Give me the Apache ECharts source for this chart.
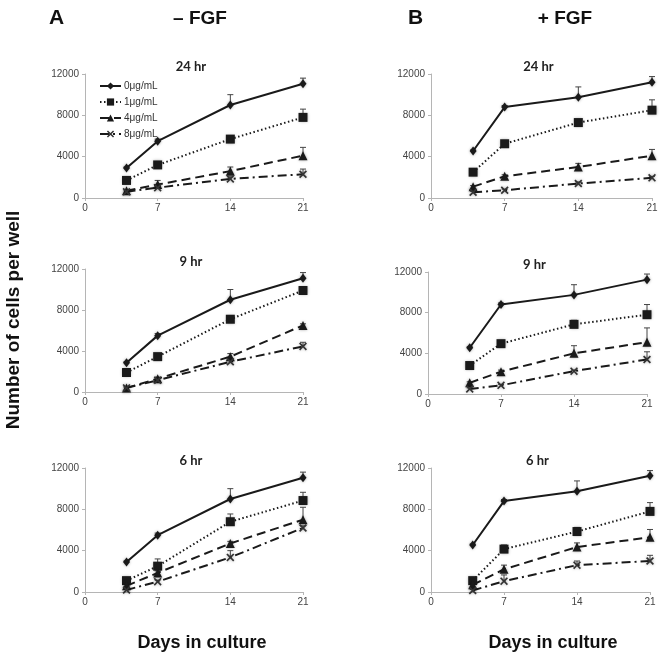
<!DOCTYPE html>
<html><head><meta charset="utf-8">
<script src="https://cdn.jsdelivr.net/npm/echarts@6/dist/echarts.min.js"></script>
<style>html,body{margin:0;padding:0;background:#fff}#c{width:662px;height:652px}</style>
</head><body><div id="c"></div>
<script>
// ---- data ----
const days = [4, 7, 14, 21];
const doses = ['0μg/mL', '1μg/mL', '4μg/mL', '8μg/mL'];
const xTicks = [0, 7, 14, 21];
const yTicks = [0, 4000, 8000, 12000];
const panelTitles = ['24 hr', '24 hr', '9 hr', '9 hr', '6 hr', '6 hr'];

// -FGF 24 hr
const a24_0 = [2900, 5500, 9000, 11050];
const a24_1 = [1700, 3200, 5700, 7800];
const a24_4 = [700, 1300, 2600, 4100];
const a24_8 = [600, 1000, 1850, 2300];
const a24_0e = [100, 200, 1000, 550];
const a24_1e = [100, 200, 200, 800];
const a24_4e = [100, 400, 400, 800];
const a24_8e = [100, 300, 200, 500];
// +FGF 24 hr
const b24_0 = [4550, 8800, 9750, 11200];
const b24_1 = [2500, 5250, 7300, 8500];
const b24_4 = [1100, 2100, 3000, 4100];
const b24_8 = [550, 750, 1400, 1950];
const b24_0e = [100, 150, 1000, 550];
const b24_1e = [100, 150, 150, 1000];
const b24_4e = [100, 150, 350, 600];
const b24_8e = [100, 100, 150, 150];
// -FGF 9 hr
const a9_0 = [2850, 5500, 9000, 11100];
const a9_1 = [1900, 3450, 7100, 9900];
const a9_4 = [400, 1300, 3450, 6500];
const a9_8 = [400, 1150, 2950, 4450];
const a9_0e = [100, 200, 1000, 550];
const a9_1e = [100, 100, 150, 150];
const a9_4e = [100, 150, 300, 150];
const a9_8e = [100, 150, 150, 400];
// +FGF 9 hr
const b9_0 = [4550, 8800, 9750, 11250];
const b9_1 = [2800, 4950, 6850, 7800];
const b9_4 = [1100, 2200, 4000, 5100];
const b9_8 = [500, 850, 2250, 3400];
const b9_0e = [100, 150, 1000, 550];
const b9_1e = [100, 150, 400, 1000];
const b9_4e = [100, 150, 750, 1400];
const b9_8e = [100, 100, 100, 750];
// -FGF 6 hr
const a6_0 = [2900, 5500, 9000, 11050];
const a6_1 = [1100, 2500, 6800, 8850];
const a6_4 = [600, 1850, 4700, 7000];
const a6_8 = [200, 1000, 3350, 6200];
const a6_0e = [100, 200, 1000, 550];
const a6_1e = [100, 700, 750, 800];
const a6_4e = [100, 200, 200, 1200];
const a6_8e = [100, 150, 650, 200];
// +FGF 6 hr
const b6_0 = [4550, 8800, 9750, 11250];
const b6_1 = [1100, 4150, 5850, 7800];
const b6_4 = [700, 2200, 4350, 5300];
const b6_8 = [150, 1050, 2600, 3000];
const b6_0e = [100, 150, 1000, 500];
const b6_1e = [100, 400, 400, 850];
const b6_4e = [100, 400, 400, 750];
const b6_8e = [100, 600, 400, 550];

const panels = [
  {vals: [a24_0, a24_1, a24_4, a24_8], errs: [a24_0e, a24_1e, a24_4e, a24_8e]},
  {vals: [b24_0, b24_1, b24_4, b24_8], errs: [b24_0e, b24_1e, b24_4e, b24_8e]},
  {vals: [a9_0, a9_1, a9_4, a9_8], errs: [a9_0e, a9_1e, a9_4e, a9_8e]},
  {vals: [b9_0, b9_1, b9_4, b9_8], errs: [b9_0e, b9_1e, b9_4e, b9_8e]},
  {vals: [a6_0, a6_1, a6_4, a6_8], errs: [a6_0e, a6_1e, a6_4e, a6_8e]},
  {vals: [b6_0, b6_1, b6_4, b6_8], errs: [b6_0e, b6_1e, b6_4e, b6_8e]}
];

// ---- layout / style ----
const grids = [
  {left: 85, top: 74, width: 218, height: 124},
  {left: 431, top: 74, width: 221, height: 124},
  {left: 85, top: 269, width: 218, height: 123},
  {left: 428, top: 272, width: 219, height: 122},
  {left: 85, top: 468, width: 218, height: 124},
  {left: 431, top: 468, width: 219, height: 124}
];
const xSymbol = 'path://M0,1.5 L1.5,0 L5,3.5 L8.5,0 L10,1.5 L6.5,5 L10,8.5 L8.5,10 L5,6.5 L1.5,10 L0,8.5 L3.5,5 Z';
const styles = [
  {symbol: 'diamond', size: [7, 9], type: 'solid', color: '#1a1a1a'},
  {symbol: 'rect', size: 9, type: [1.5, 2.5], color: '#1a1a1a'},
  {symbol: 'triangle', size: 9, type: [9, 5], color: '#1a1a1a'},
  {symbol: xSymbol, size: 8, type: [9, 4, 2, 4], color: '#333'}
];

const axisLabelStyle = {color: '#444', fontSize: 10, fontFamily: 'Liberation Sans, Arial, sans-serif'};
const xAxes = [], yAxes = [], series = [], titles = [];
grids.forEach((g, i) => {
  xAxes.push({
    type: 'value', gridIndex: i, min: 0, max: 21, interval: 7,
    axisLine: {lineStyle: {color: '#b5b5b5', width: 1}},
    axisTick: {show: true, length: 3, lineStyle: {color: '#b5b5b5'}},
    axisLabel: Object.assign({margin: 5, formatter: v => String(v)}, axisLabelStyle),
    splitLine: {show: false}
  });
  yAxes.push({
    type: 'value', gridIndex: i, min: 0, max: 12000, interval: 4000,
    axisLine: {show: true, lineStyle: {color: '#b5b5b5', width: 1}},
    axisTick: {show: true, length: 3, lineStyle: {color: '#b5b5b5'}},
    axisLabel: Object.assign({margin: 6, formatter: v => String(v)}, axisLabelStyle),
    splitLine: {show: false}
  });
  titles.push({
    text: panelTitles[i],
    left: g.left + g.width / 2 - 8, top: g.top - 19, textAlign: 'center',
    textStyle: {fontSize: 13, fontWeight: 'bold', color: '#222', fontFamily: 'Lato, Open Sans, sans-serif'}
  });
  const p = panels[i];
  p.vals.forEach((v, k) => {
    const st = styles[k];
    series.push({
      type: 'custom', xAxisIndex: i, yAxisIndex: i, silent: true, z: 1,
      data: days.map((d, j) => [d, v[j], p.errs[k][j]]),
      renderItem: function (params, api) {
        const x = api.value(0), y = api.value(1), e = api.value(2);
        const p0 = api.coord([x, y]);
        const p1 = api.coord([x, y + e]);
        return {type: 'group', children: [
          {type: 'line', shape: {x1: p0[0], y1: p0[1], x2: p1[0], y2: p1[1]}, style: {stroke: '#444', lineWidth: 1}},
          {type: 'line', shape: {x1: p1[0] - 3, y1: p1[1], x2: p1[0] + 3, y2: p1[1]}, style: {stroke: '#444', lineWidth: 1}}
        ]};
      }
    });
    series.push({
      type: 'line', name: doses[k], xAxisIndex: i, yAxisIndex: i, z: 3,
      data: days.map((d, j) => [d, v[j]]),
      symbol: st.symbol, symbolSize: st.size, showSymbol: true,
      lineStyle: {color: '#1a1a1a', width: 2, type: st.type},
      itemStyle: {color: st.color, shadowBlur: 3, shadowColor: 'rgba(0,0,0,0.35)'},
      animation: false
    });
  });
});

const bigFont = 'Liberation Sans, Arial';
titles.push(
  {text: 'A', left: 44, top: 3, textStyle: {fontSize: 21, fontWeight: 'bold', color: '#111', fontFamily: bigFont}},
  {text: '– FGF', left: 195, top: 4, textAlign: 'center', textStyle: {fontSize: 19, fontWeight: 'bold', color: '#111', fontFamily: bigFont}},
  {text: 'B', left: 403, top: 3, textStyle: {fontSize: 21, fontWeight: 'bold', color: '#111', fontFamily: bigFont}},
  {text: '+ FGF', left: 560, top: 4, textAlign: 'center', textStyle: {fontSize: 19, fontWeight: 'bold', color: '#111', fontFamily: bigFont}},
  {text: 'Days in culture', left: 197, top: 629, textAlign: 'center', textStyle: {fontSize: 18, fontWeight: 'bold', color: '#111', fontFamily: bigFont}},
  {text: 'Days in culture', left: 548, top: 629, textAlign: 'center', textStyle: {fontSize: 18, fontWeight: 'bold', color: '#111', fontFamily: bigFont}}
);

const chart = echarts.init(document.getElementById('c'), null, {renderer: 'canvas'});
chart.setOption({
  animation: false,
  backgroundColor: '#fff',
  title: titles,
  grid: grids,
  xAxis: xAxes,
  yAxis: yAxes,
  legend: {
    data: doses, orient: 'vertical', left: 94, top: 76, itemGap: 6,
    itemWidth: 21, itemHeight: 9, selectedMode: false,
    textStyle: {fontSize: 10, color: '#333', fontFamily: bigFont, padding: [0, 0, 0, -2]}
  },
  graphic: [{
    type: 'text', x: 14, y: 320, rotation: Math.PI / 2,
    style: {text: 'Number of cells per well', fontSize: 19, fontWeight: 'bold', fill: '#111',
      fontFamily: bigFont, align: 'center', verticalAlign: 'middle'}
  }],
  series: series
});
</script></body></html>
